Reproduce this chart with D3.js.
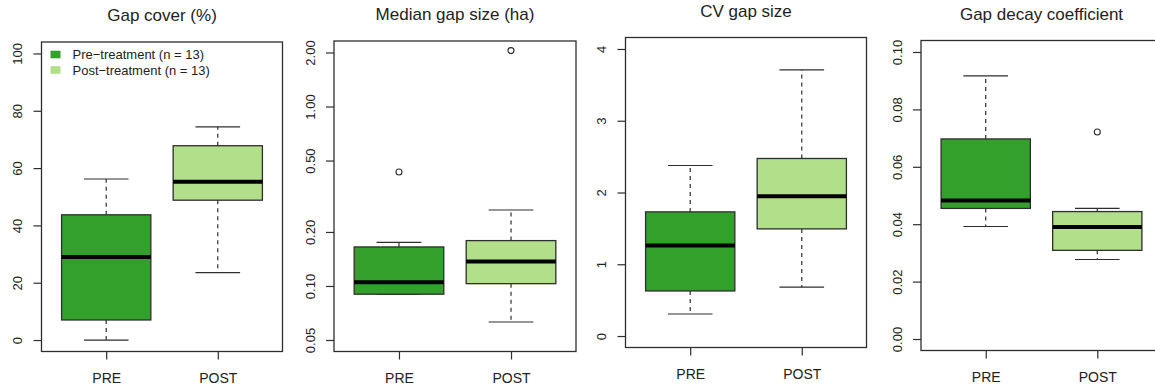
<!DOCTYPE html>
<html>
<head>
<meta charset="utf-8">
<script src="https://cdn.jsdelivr.net/npm/d3@7"></script>
<style>
  html, body { margin: 0; padding: 0; background: #fff; }
  svg { display: block; font-family: "Liberation Sans", Arial, sans-serif; }
</style>
</head>
<body>
<svg id="chart" width="1155" height="392"></svg>
<script>
// ---------------- DATA ----------------
const categories = ["PRE", "POST"];
const legendLabels = ["Pre\u2212treatment (n = 13)", "Post\u2212treatment (n = 13)"];
const panelTitles = ["Gap cover (%)", "Median gap size (ha)", "CV gap size", "Gap decay coefficient"];

// five-number summaries: [lower whisker, Q1, median, Q3, upper whisker]
const gapCoverPre  = [0, 7.0, 29.0, 43.7, 56.2];
const gapCoverPost = [23.5, 48.8, 55.2, 67.8, 74.4];
const gapCoverOutPre = [];
const gapCoverOutPost = [];

const medianGapPre  = [0.090, 0.090, 0.105, 0.165, 0.175];
const medianGapPost = [0.063, 0.103, 0.137, 0.179, 0.265];
const medianGapOutPre  = [0.432];
const medianGapOutPost = [2.05];

const cvGapPre  = [0.307, 0.628, 1.26, 1.73, 2.376];
const cvGapPost = [0.68, 1.493, 1.949, 2.474, 3.71];
const cvGapOutPre = [];
const cvGapOutPost = [];

const decayPre  = [0.0392, 0.0455, 0.0483, 0.0697, 0.0917];
const decayPost = [0.0277, 0.0309, 0.0390, 0.0444, 0.0455];
const decayOutPre  = [];
const decayOutPost = [0.0721];

// tick values and labels
const gapCoverTicks = [0, 20, 40, 60, 80, 100];
const gapCoverTickLabels = ["0", "20", "40", "60", "80", "100"];
const medianGapTicks = [0.05, 0.10, 0.20, 0.50, 1.00, 2.00];
const medianGapTickLabels = ["0.05", "0.10", "0.20", "0.50", "1.00", "2.00"];
const cvGapTicks = [0, 1, 2, 3, 4];
const cvGapTickLabels = ["0", "1", "2", "3", "4"];
const decayTicks = [0, 0.02, 0.04, 0.06, 0.08, 0.10];
const decayTickLabels = ["0.00", "0.02", "0.04", "0.06", "0.08", "0.10"];

// y limits (before R's 4% extension)
const gapCoverLim = [0, 100];
const medianGapLim = [0.05, 2];
const cvGapLim = [0, 4];
const decayLim = [0, 0.1];

// ---------------- STYLE / LAYOUT ----------------
const colors = ["#33a02c", "#b2df8a"];
const ink = "#2e2e2e";
const panelsLayout = [
  { left: 41.5, top: 42, right: 282.5, bottom: 351.5 },
  { left: 334, top: 41, right: 576, bottom: 351.5 },
  { left: 625.5, top: 37.5, right: 866.5, bottom: 347.5 },
  { left: 921, top: 40.5, right: 1162, bottom: 350.5 }
];

const panels = [
  { title: panelTitles[0], stats: [gapCoverPre, gapCoverPost], outs: [gapCoverOutPre, gapCoverOutPost],
    ticks: gapCoverTicks, labels: gapCoverTickLabels, lim: gapCoverLim, log: false, legend: true },
  { title: panelTitles[1], stats: [medianGapPre, medianGapPost], outs: [medianGapOutPre, medianGapOutPost],
    ticks: medianGapTicks, labels: medianGapTickLabels, lim: medianGapLim, log: true },
  { title: panelTitles[2], stats: [cvGapPre, cvGapPost], outs: [cvGapOutPre, cvGapOutPost],
    ticks: cvGapTicks, labels: cvGapTickLabels, lim: cvGapLim, log: false },
  { title: panelTitles[3], stats: [decayPre, decayPost], outs: [decayOutPre, decayOutPost],
    ticks: decayTicks, labels: decayTickLabels, lim: decayLim, log: false }
];

const svg = d3.select("#chart");

panels.forEach((p, i) => {
  const L = panelsLayout[i];
  const g = svg.append("g");

  // x: positions 1..n, xlim 0.5..n+0.5 extended by 4%
  const n = categories.length;
  const xr = n; // range width of xlim
  const x = d3.scaleLinear()
    .domain([0.5 - 0.04 * xr, n + 0.5 + 0.04 * xr])
    .range([L.left, L.right]);

  let y;
  if (p.log) {
    const a = Math.log10(p.lim[0]), b = Math.log10(p.lim[1]);
    const d = (b - a) * 0.04;
    y = d3.scaleLog().domain([Math.pow(10, a - d), Math.pow(10, b + d)]).range([L.bottom, L.top]);
  } else {
    const d = (p.lim[1] - p.lim[0]) * 0.04;
    y = d3.scaleLinear().domain([p.lim[0] - d, p.lim[1] + d]).range([L.bottom, L.top]);
  }

  const boxW = 0.8, capW = 0.4;

  categories.forEach((c, j) => {
    const s = p.stats[j];
    const cx = j + 1;
    // whiskers (dashed)
    g.append("line")
      .attr("x1", x(cx)).attr("x2", x(cx))
      .attr("y1", y(s[3])).attr("y2", y(s[4]))
      .attr("stroke", ink).attr("stroke-width", 1.2).attr("stroke-dasharray", "4,4");
    g.append("line")
      .attr("x1", x(cx)).attr("x2", x(cx))
      .attr("y1", y(s[1])).attr("y2", y(s[0]))
      .attr("stroke", ink).attr("stroke-width", 1.2).attr("stroke-dasharray", "4,4");
    // caps
    [s[0], s[4]].forEach(v => {
      g.append("line")
        .attr("x1", x(cx - capW / 2)).attr("x2", x(cx + capW / 2))
        .attr("y1", y(v)).attr("y2", y(v))
        .attr("stroke", ink).attr("stroke-width", 1.2);
    });
    // box
    g.append("rect")
      .attr("x", x(cx - boxW / 2))
      .attr("width", x(cx + boxW / 2) - x(cx - boxW / 2))
      .attr("y", y(s[3]))
      .attr("height", y(s[1]) - y(s[3]))
      .attr("fill", colors[j])
      .attr("stroke", ink).attr("stroke-width", 1.3);
    // median
    g.append("line")
      .attr("x1", x(cx - boxW / 2)).attr("x2", x(cx + boxW / 2))
      .attr("y1", y(s[2])).attr("y2", y(s[2]))
      .attr("stroke", "#000").attr("stroke-width", 4);
    // outliers
    p.outs[j].forEach(v => {
      g.append("circle")
        .attr("cx", x(cx)).attr("cy", y(v)).attr("r", 3)
        .attr("fill", "none").attr("stroke", ink).attr("stroke-width", 1.1);
    });
  });

  // frame
  g.append("rect")
    .attr("x", L.left).attr("y", L.top)
    .attr("width", L.right - L.left).attr("height", L.bottom - L.top)
    .attr("fill", "none").attr("stroke", ink).attr("stroke-width", 1.3);

  // y axis
  const yAxis = d3.axisLeft(y)
    .tickValues(p.ticks)
    .tickFormat((d, k) => p.labels[k])
    .tickSize(8);
  const ya = g.append("g").attr("transform", `translate(${L.left},0)`).call(yAxis);
  ya.select(".domain").remove();
  ya.selectAll(".tick line").attr("stroke", ink).attr("stroke-width", 1.2);
  ya.selectAll(".tick text")
    .attr("transform", "rotate(-90)")
    .attr("x", 0).attr("y", -19.5).attr("dy", 0)
    .attr("text-anchor", "middle")
    .attr("fill", "#222")
    .style("font-size", "13px")
    .style("font-family", "'Liberation Sans', Arial, sans-serif");

  // x axis
  const xAxis = d3.axisBottom(x)
    .tickValues(categories.map((c, j) => j + 1))
    .tickFormat((d, k) => categories[k])
    .tickSize(8);
  const xa = g.append("g").attr("transform", `translate(0,${L.bottom})`).call(xAxis);
  xa.select(".domain").remove();
  xa.selectAll(".tick line").attr("stroke", ink).attr("stroke-width", 1.2);
  xa.selectAll(".tick text")
    .attr("y", 31).attr("dy", 0)
    .attr("fill", "#222")
    .style("font-size", "14px")
    .style("font-family", "'Liberation Sans', Arial, sans-serif");

  // title
  g.append("text")
    .attr("x", (L.left + L.right) / 2)
    .attr("y", L.top - 21)
    .attr("text-anchor", "middle")
    .attr("fill", "#222")
    .style("font-size", "17px")
    .text(p.title);

  // legend
  if (p.legend) {
    legendLabels.forEach((lab, k) => {
      const cy = 54.5 + k * 15.5;
      g.append("rect")
        .attr("x", 50.5).attr("y", cy - 3.8)
        .attr("width", 10).attr("height", 7.6)
        .attr("fill", colors[k]);
      g.append("text")
        .attr("x", 72.5).attr("y", cy + 4.6)
        .attr("fill", "#222")
        .style("font-size", "13px")
        .text(lab);
    });
  }
});
</script>
</body>
</html>
